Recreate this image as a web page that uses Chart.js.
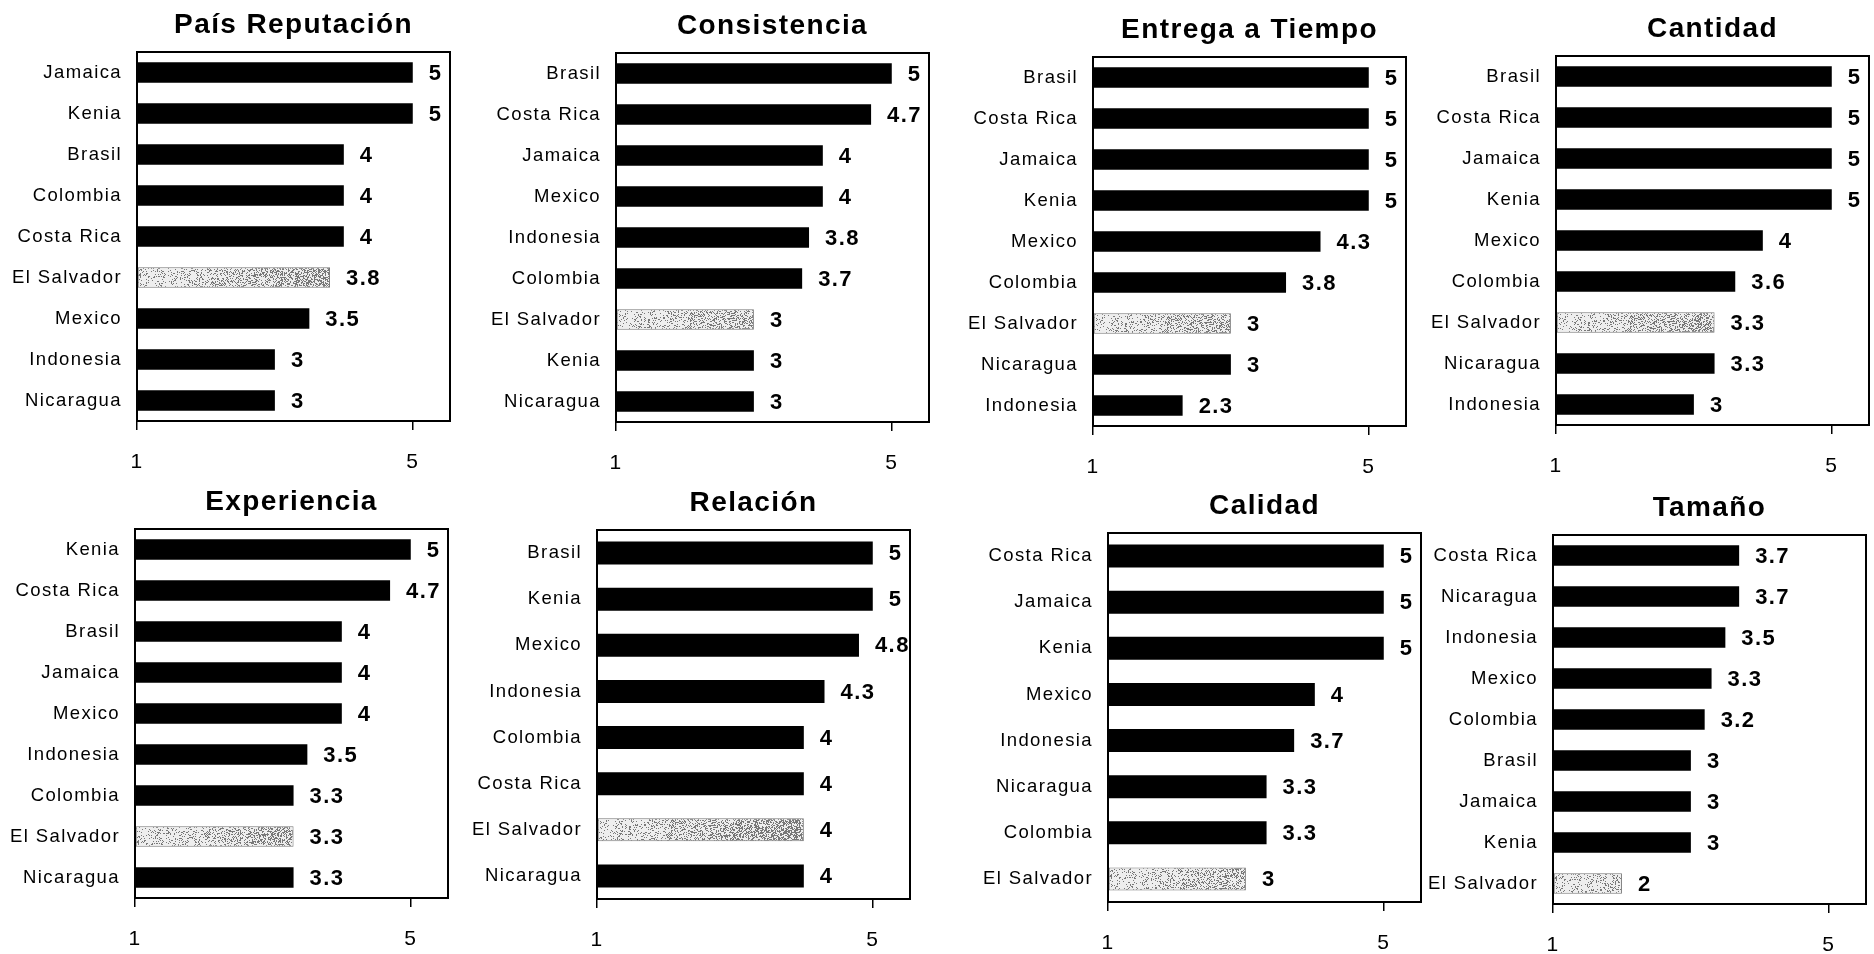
<!DOCTYPE html>
<html>
<head>
<meta charset="utf-8">
<title>Ranking de países</title>
<script src="https://cdn.jsdelivr.net/npm/chart.js@4.4.1/dist/chart.umd.min.js"></script>
<style>
  html, body { margin: 0; padding: 0; background: #fff; width: 1874px; height: 954px; overflow: hidden; }
  canvas { position: absolute; }
</style>
</head>
<body>
<script>
// ---- datos ----
const titles = ['País Reputación', 'Consistencia', 'Entrega a Tiempo', 'Cantidad',
                'Experiencia', 'Relación', 'Calidad', 'Tamaño'];

const catsReputacion = ['Jamaica', 'Kenia', 'Brasil', 'Colombia', 'Costa Rica', 'El Salvador', 'Mexico', 'Indonesia', 'Nicaragua'];
const valsReputacion = [5, 5, 4, 4, 4, 3.8, 3.5, 3, 3];

const catsConsistencia = ['Brasil', 'Costa Rica', 'Jamaica', 'Mexico', 'Indonesia', 'Colombia', 'El Salvador', 'Kenia', 'Nicaragua'];
const valsConsistencia = [5, 4.7, 4, 4, 3.8, 3.7, 3, 3, 3];

const catsEntrega = ['Brasil', 'Costa Rica', 'Jamaica', 'Kenia', 'Mexico', 'Colombia', 'El Salvador', 'Nicaragua', 'Indonesia'];
const valsEntrega = [5, 5, 5, 5, 4.3, 3.8, 3, 3, 2.3];

const catsCantidad = ['Brasil', 'Costa Rica', 'Jamaica', 'Kenia', 'Mexico', 'Colombia', 'El Salvador', 'Nicaragua', 'Indonesia'];
const valsCantidad = [5, 5, 5, 5, 4, 3.6, 3.3, 3.3, 3];

const catsExperiencia = ['Kenia', 'Costa Rica', 'Brasil', 'Jamaica', 'Mexico', 'Indonesia', 'Colombia', 'El Salvador', 'Nicaragua'];
const valsExperiencia = [5, 4.7, 4, 4, 4, 3.5, 3.3, 3.3, 3.3];

const catsRelacion = ['Brasil', 'Kenia', 'Mexico', 'Indonesia', 'Colombia', 'Costa Rica', 'El Salvador', 'Nicaragua'];
const valsRelacion = [5, 5, 4.8, 4.3, 4, 4, 4, 4];

const catsCalidad = ['Costa Rica', 'Jamaica', 'Kenia', 'Mexico', 'Indonesia', 'Nicaragua', 'Colombia', 'El Salvador'];
const valsCalidad = [5, 5, 5, 4, 3.7, 3.3, 3.3, 3];

const catsTamano = ['Costa Rica', 'Nicaragua', 'Indonesia', 'Mexico', 'Colombia', 'Brasil', 'Jamaica', 'Kenia', 'El Salvador'];
const valsTamano = [3.7, 3.7, 3.5, 3.3, 3.2, 3, 3, 3, 2];

const xTicks = [1, 5];
const highlight = 'El Salvador';

const allCats = [catsReputacion, catsConsistencia, catsEntrega, catsCantidad,
                 catsExperiencia, catsRelacion, catsCalidad, catsTamano];
const allVals = [valsReputacion, valsConsistencia, valsEntrega, valsCantidad,
                 valsExperiencia, valsRelacion, valsCalidad, valsTamano];

// ---- posición de cada recuadro (esquina sup. izq. del área del gráfico) ----
const boxPos = [[137, 52], [616, 53], [1093, 57], [1556, 56],
                [135, 529], [597, 530], [1108, 533], [1553, 535]];

const FONT = '"Liberation Sans", Arial, Helvetica, sans-serif';
const AXIS_W = 150, TITLE_H = 52, XAXIS_H = 60, PAD_R = 12;
const BOX_W = 313, BOX_H = 369;
const SPACING = '1.4px';   // el original está algo estirado a lo ancho

// textura punteada para la barra de El Salvador (más densa hacia la derecha)
function grain(x, y) {
    let n = Math.imul(x, 374761393) + Math.imul(y, 668265263);
    n = Math.imul(n ^ (n >>> 13), 1274126177);
    n ^= n >>> 16;
    return (n >>> 0) / 4294967296;
}
function makeStipple() {
    const w = 340, h = 30;
    const c = document.createElement('canvas');
    c.width = w; c.height = h;
    const g = c.getContext('2d');
    const img = g.createImageData(w, h);
    for (let y = 0; y < h; y++) {
        for (let x = 0; x < w; x++) {
            const dens = 0.12 + 0.5 * Math.min(1, x / 240);
            const v = grain(x, y) < dens ? 120 : 238;
            const p = (y * w + x) * 4;
            img.data[p] = img.data[p + 1] = img.data[p + 2] = v;
            img.data[p + 3] = 255;
        }
    }
    g.putImageData(img, 0, 0);
    return c;
}
const stippleTile = makeStipple();

// recuadro + etiquetas de valor
const boxAndLabels = {
    id: 'boxAndLabels',
    beforeDraw(chart) {
        chart.ctx.letterSpacing = SPACING;
    },
    afterDatasetsDraw(chart) {
        const { ctx, chartArea: a } = chart;
        ctx.save();
        ctx.strokeStyle = '#000';
        ctx.lineWidth = 2;
        ctx.strokeRect(a.left, a.top, a.right - a.left, a.bottom - a.top);

        const vals = chart.data.datasets[0].data;
        ctx.font = 'bold 22px ' + FONT;
        ctx.fillStyle = '#000';
        ctx.textAlign = 'left';
        ctx.textBaseline = 'middle';
        chart.getDatasetMeta(0).data.forEach((bar, i) => {
            ctx.fillText(String(vals[i]), bar.x + 16, bar.y + 1);
        });
        ctx.restore();
    }
};

function barFill(c, cats) {
    if (cats[c.dataIndex] !== highlight) return '#000';
    const a = c.chart.chartArea;
    if (!a) return '#d0d0d0';
    const pat = c.chart.ctx.createPattern(stippleTile, 'repeat');
    pat.setTransform(new DOMMatrix().translate(a.left, 0));
    return pat;
}

titles.forEach((title, k) => {
    const cats = allCats[k], vals = allVals[k];
    const [bx, by] = boxPos[k];
    const canvas = document.createElement('canvas');
    canvas.width = AXIS_W + BOX_W + PAD_R;
    canvas.height = TITLE_H + BOX_H + XAXIS_H;
    canvas.style.left = (bx - AXIS_W) + 'px';
    canvas.style.top = (by - TITLE_H) + 'px';
    document.body.appendChild(canvas);

    new Chart(canvas.getContext('2d'), {
        type: 'bar',
        data: {
            labels: cats,
            datasets: [{
                data: vals,
                base: 1,
                backgroundColor: c => barFill(c, cats),
                borderColor: c => cats[c.dataIndex] === highlight ? '#777' : '#000',
                borderWidth: c => cats[c.dataIndex] === highlight ? 1 : 0,
                borderSkipped: false,
                categoryPercentage: 1,
                barPercentage: 0.5
            }]
        },
        options: {
            indexAxis: 'y',
            responsive: false,
            animation: false,
            layout: { padding: { left: 0, right: PAD_R, top: 0, bottom: 0 } },
            plugins: {
                legend: { display: false },
                tooltip: { enabled: false },
                title: {
                    display: true,
                    text: title,
                    fullSize: false,
                    color: '#000',
                    font: { family: FONT, size: 28, weight: 'bold', lineHeight: 1.2 },
                    padding: { top: 8, bottom: TITLE_H - 8 - 28 * 1.2 }
                }
            },
            scales: {
                x: {
                    type: 'linear',
                    min: 1,
                    max: 5.54,
                    afterBuildTicks: s => { s.ticks = xTicks.map(v => ({ value: v })); },
                    afterFit: s => { s.height = XAXIS_H; },
                    grid: { display: true, drawOnChartArea: false, drawTicks: true, tickLength: 9, color: '#000', lineWidth: 1.5 },
                    border: { display: false },
                    ticks: { color: '#000', font: { family: FONT, size: 21 }, padding: 20, maxRotation: 0, autoSkip: false }
                },
                y: {
                    afterFit: s => { s.width = AXIS_W; },
                    grid: { display: false, drawTicks: false },
                    border: { display: false },
                    ticks: { color: '#000', font: { family: FONT, size: 18.5 }, padding: 15, autoSkip: false }
                }
            }
        },
        plugins: [boxAndLabels]
    });
});
</script>
</body>
</html>
